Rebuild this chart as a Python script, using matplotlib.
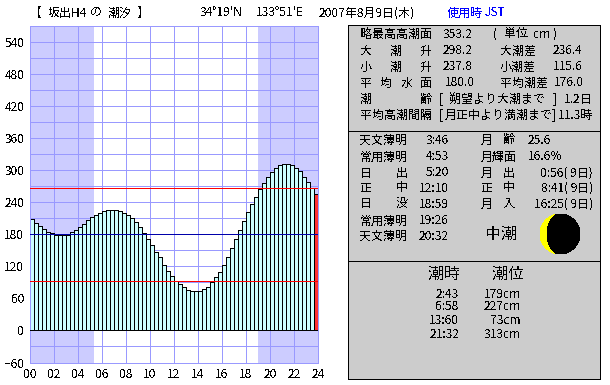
import matplotlib
matplotlib.use("Agg")
import matplotlib.pyplot as plt
from matplotlib.patches import Rectangle, Circle, Ellipse, Wedge

plt.rcParams['font.family'] = ['Noto Sans CJK JP', 'DejaVu Sans']
plt.rcParams['text.antialiased'] = False
plt.rcParams['lines.antialiased'] = False
plt.rcParams['patch.antialiased'] = False

# Tide height of every 20-minute step (cm)
tide = [209, 201, 196, 190, 184.5, 182.6, 179.4, 179.4, 179.4, 179.4, 184.5, 188,
        193.8, 199.5, 207, 212.6, 216.3, 220, 223.8, 225.7, 225.7, 225.7, 223.8, 220,
        216.3, 210.7, 203.2, 193.8, 182.6, 171.3, 160, 147, 137.6, 122.6, 111.3, 102,
        92.6, 87, 81.3, 75.7, 73.8, 73.8, 73.8, 77.6, 81.3, 90.7, 100, 109.4,
        122.6, 137.6, 154.4, 171.3, 188, 205, 221.9, 236.9, 250, 265, 276, 287.5,
        296.9, 304.4, 310, 311.9, 311.9, 310, 304, 298.8, 287.5, 278, 267, 255.6]
step_hours = 1 / 3
sunrise = 5 + 20 / 60
sunset = 18 + 59 / 60
red_levels = [267, 92]
mean_level = 180
x_ticks = list(range(0, 25, 2))
x_labels = [f"{h:02d}" for h in x_ticks]
y_ticks = list(range(-60, 541, 60))

BG_GRID = '#9999FF'
NIGHT = '#CCCCFF'
BAR = '#CCFFFF'
PX = 0.72

fig = plt.figure(figsize=(6.10, 3.85), dpi=100, facecolor='white')
ax = fig.add_axes([30 / 610, 1 - 362.5 / 385, 288 / 610, 336.5 / 385])
ax.set_xlim(0, 24)
ax.set_ylim(-60, 570)
ax.axvspan(0, sunrise, color=NIGHT, lw=0, zorder=0)
ax.axvspan(sunset, 24, color=NIGHT, lw=0, zorder=0)
ax.set_xticks(x_ticks)
ax.set_xticklabels(x_labels, fontsize=8.6)
ax.set_yticks(y_ticks)
ax.set_yticks(list(range(-30, 570, 60)), minor=True)
ax.tick_params(which='both', length=0)
ax.tick_params(axis='x', pad=4)
ax.tick_params(axis='y', labelsize=8.6, pad=4)
ax.grid(True, which='both', color=BG_GRID, lw=PX, zorder=1)
ax.set_axisbelow(True)
for s in ax.spines.values():
    s.set_color(BG_GRID)
    s.set_linewidth(PX)

times = [i * step_hours for i in range(len(tide))]
colors = [BAR] * (len(tide) - 1) + ['#FF3333']
ax.bar(times, tide, width=step_hours, align='edge', color=colors,
       edgecolor='black', linewidth=PX, zorder=2)
ax.axhline(0, color='black', lw=PX, zorder=3)
for lv in red_levels:
    ax.axhline(lv, color='#FF0000', lw=PX, zorder=4)
ax.axhline(mean_level, color='#0000AA', lw=PX, zorder=4)

ov = fig.add_axes([0, 0, 1, 1], facecolor='none')
ov.set_xlim(0, 610)
ov.set_ylim(385, 0)
ov.axis('off')

for y0, y1 in [(24, 130), (130, 260), (260, 378)]:
    ov.add_patch(Rectangle((347.5, y0 + .5), 252.5, y1 - y0, fc='#CCCCCC', ec='black', lw=PX))


def T(x, y, s, size=12, color='black', ha='left'):
    ov.text(x, y, s, fontsize=size * 0.72, color=color, ha=ha, va='center')


# header
T(29, 13, '【', 13)
T(48, 13, '坂出H4')
T(90, 13, 'の')
T(108, 13, '潮汐')
T(137, 13, '】', 13)
T(200, 13, "34°19'N")
T(256, 13, "133°51'E")
T(319, 13, '2007年8月9日(木)')
T(447, 13, '使用時', color='#0000FF')
T(485, 13, 'JST', color='#0000FF')

# first panel
rows1 = [34, 51, 67, 83, 99, 115]
T(360, rows1[0], '略最高高潮面')
T(443, rows1[0], '353.2')
T(493, rows1[0], '(')
T(504, rows1[0], '単位')
T(533, rows1[0], 'cm')
T(553, rows1[0], ')')
for r, a, b, c, d, e in [(1, '大', '298.2', '大潮差', '236.4', 0), (2, '小', '237.8', '小潮差', '115.6', 0)]:
    T(360, rows1[r], a)
    T(390, rows1[r], '潮')
    T(420, rows1[r], '升')
    T(443, rows1[r], b)
    T(500, rows1[r], c)
    T(553, rows1[r], d)
T(360, rows1[3], '平')
T(380, rows1[3], '均')
T(401, rows1[3], '水')
T(420, rows1[3], '面')
T(445, rows1[3], '180.0')
T(500, rows1[3], '平均潮差')
T(554, rows1[3], '176.0')
T(360, rows1[4], '潮')
T(420, rows1[4], '齢')
T(439, rows1[4], '[')
T(449, rows1[4], '朔望より大潮まで')
T(553, rows1[4], ']')
T(564, rows1[4], '1.2日')
T(360, rows1[5], '平均高潮間隔')
T(439, rows1[5], '[')
T(445, rows1[5], '月正中より満潮まで')
T(552, rows1[5], ']')
T(558, rows1[5], '11.3時')

# second panel
rows2 = [140, 157, 173, 188, 204, 221, 236]
left_rows = [('天文薄明', None, '3:46'), ('常用薄明', None, '4:53'), ('日', '出', '5:20'),
             ('正', '中', '12:10'), ('日', '没', '18:59'), ('常用薄明', None, '19:26'),
             ('天文薄明', None, '20:32')]
for y, (a, b, t) in zip(rows2, left_rows):
    T(360, y, a)
    if b:
        T(396, y, b)
    T(449, y, t, ha='right')
T(481, rows2[0], '月')
T(503, rows2[0], '齢')
T(528, rows2[0], '25.6')
T(481, rows2[1], '月輝面')
T(528, rows2[1], '16.6%')
for y, a, b, t in [(rows2[2], '月', '出', '0:56( 9日)'), (rows2[3], '正', '中', '8:41( 9日)'),
                   (rows2[4], '月', '入', '16:25( 9日)')]:
    T(481, y, a)
    T(503, y, b)
    T(593, y, t, ha='right')
T(485, 234, '中潮', 16)

# moon
ov.add_patch(Circle((560, 234), 20, fc='#FFFF00', ec='none'))
ov.add_patch(Wedge((560, 234), 20, -90, 90, fc='black', ec='none'))
ov.add_patch(Ellipse((560, 234), 26, 40, fc='black', ec='none'))

# third panel
T(428, 274, '潮時', 16)
T(492, 274, '潮位', 16)
tide_times = ['2:43', '6:58', '13:60', '21:32']
tide_levels = ['179cm', '227cm', '73cm', '313cm']
for y, t, l in zip([294, 307, 321, 334], tide_times, tide_levels):
    T(459, y, t, ha='right')
    T(521, y, l, ha='right')

fig.savefig('out.png', dpi=100)
